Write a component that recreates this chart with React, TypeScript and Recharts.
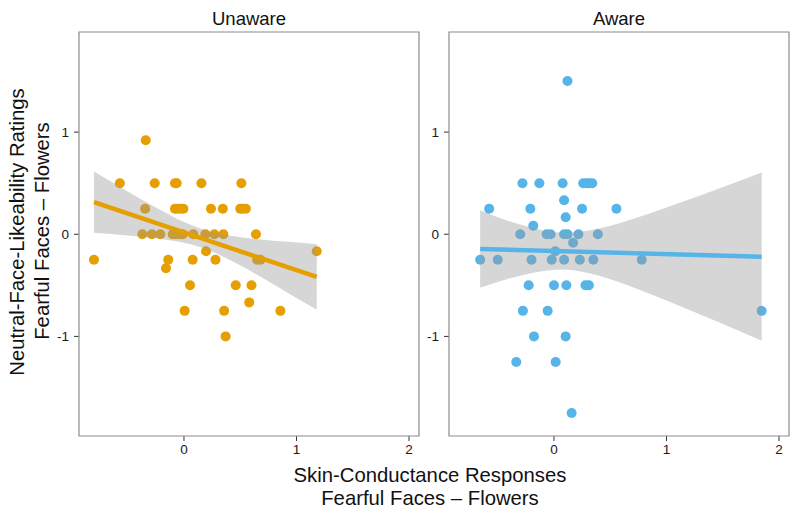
import React from 'react';
import {
  ComposedChart,
  Scatter,
  Area,
  Line,
  XAxis,
  YAxis,
  ReferenceArea,
} from 'recharts';

// Unaware panel (orange)
const unawareX = [
  -0.8, -0.34, -0.57, -0.26, -0.08, -0.065, 0.155, 0.51, -0.345, -0.08, -0.06, -0.03, -0.005,
  0.24, 0.345, 0.5, 0.52, 0.55, -0.37, -0.285, -0.21, -0.1, -0.07, -0.04, -0.01, 0.083, 0.19,
  0.27, 0.35, 0.64, 0.196, -0.14, 0.077, 0.28, 0.65, 0.68, -0.16, 1.18, 0.054, 0.46, 0.6, 0.58,
  0.006, 0.357, 0.857, 0.37,
];
const unawareY = [
  -0.25, 0.92, 0.5, 0.5, 0.5, 0.5, 0.5, 0.5, 0.25, 0.25, 0.25, 0.25, 0.25,
  0.25, 0.25, 0.25, 0.25, 0.25, 0, 0, 0, 0, 0, 0, 0, 0, 0,
  0, 0, 0, -0.167, -0.25, -0.25, -0.25, -0.25, -0.25, -0.333, -0.167, -0.5, -0.5, -0.5, -0.667,
  -0.75, -0.75, -0.75, -1.0,
];
const unawareFitX = [-0.8, 1.18];
const unawareFitY = [0.314, -0.418];
const unawareBandX = [-0.8, -0.5, -0.25, 0, 0.15, 0.4, 0.7, 0.95, 1.18];
const unawareBandLow = [0.014, -0.012, -0.039, -0.083, -0.127, -0.247, -0.429, -0.591, -0.738];
const unawareBandHigh = [0.614, 0.418, 0.261, 0.119, 0.053, -0.013, -0.053, -0.077, -0.098];

// Aware panel (blue)
const awareX = [
  0.12, -0.28, -0.13, 0.077, 0.26, 0.29, 0.31, 0.34, 0.09, -0.576, -0.21, 0.25, 0.555,
  0.104, -0.184, -0.3, -0.065, -0.03, 0.09, 0.12, 0.217, 0.39, 0.17, 0.012,
  -0.656, -0.5, -0.2, -0.02, 0.09, 0.23, 0.35, 0.78, -0.225, 0.0, 0.11, 0.28, 0.31,
  -0.276, -0.056, 1.846, -0.178, 0.104, -0.335, 0.015, 0.157,
];
const awareY = [
  1.5, 0.5, 0.5, 0.5, 0.5, 0.5, 0.5, 0.5, 0.333, 0.25, 0.25, 0.25, 0.25,
  0.167, 0.083, 0, 0, 0, 0, 0, 0, 0, -0.083, -0.167,
  -0.25, -0.25, -0.25, -0.25, -0.25, -0.25, -0.25, -0.25, -0.5, -0.5, -0.5, -0.5, -0.5,
  -0.75, -0.75, -0.75, -1.0, -1.0, -1.25, -1.25, -1.75,
];
const awareFitX = [-0.656, 1.846];
const awareFitY = [-0.144, -0.219];
const awareBandX = [-0.656, -0.3, 0.08, 0.4, 0.7, 1.0, 1.3, 1.6, 1.846];
const awareBandLow = [-0.524, -0.405, -0.346, -0.407, -0.519, -0.649, -0.786, -0.926, -1.042];
const awareBandHigh = [0.236, 0.095, 0.014, 0.056, 0.15, 0.262, 0.38, 0.502, 0.604];

const xTicks = [0, 1, 2];
const yTicks = [-1, 0, 1];
const X_DOMAIN: [number, number] = [-0.933, 2.089];
const Y_DOMAIN: [number, number] = [-1.975, 1.98];

const FONT = '"Liberation Sans", Arial, Helvetica, sans-serif';
const ORANGE = '#E69F00';
const BLUE = '#56B4E9';

type PanelProps = {
  left: number;
  width: number;
  marginLeft: number;
  yWidth: number;
  xs: number[];
  ys: number[];
  fitX: number[];
  fitY: number[];
  bandX: number[];
  bandLow: number[];
  bandHigh: number[];
  color: string;
};

function Panel(p: PanelProps) {
  const points = p.xs.map((x, i) => ({ x, y: p.ys[i] }));
  const band = p.bandX.map((x, i) => ({ x, band: [p.bandLow[i], p.bandHigh[i]] }));
  const fit = p.fitX.map((x, i) => ({ x, fit: p.fitY[i] }));
  const tick = { fontSize: 13.5, fill: '#1a1a1a', fontFamily: FONT };
  return (
    <div style={{ position: 'absolute', left: p.left, top: 0 }}>
      <ComposedChart
        width={p.width}
        height={514}
        data={band}
        margin={{ top: 32, right: 11, bottom: 48, left: p.marginLeft }}
      >
        <XAxis
          dataKey="x"
          type="number"
          domain={X_DOMAIN}
          ticks={xTicks}
          allowDataOverflow
          height={30}
          axisLine={false}
          tickSize={5}
          tickMargin={3}
          tickLine={{ stroke: '#333' }}
          tick={tick}
        />
        <YAxis
          type="number"
          domain={Y_DOMAIN}
          ticks={yTicks}
          allowDataOverflow
          width={p.yWidth}
          axisLine={false}
          tickSize={5}
          tickMargin={5}
          tickLine={{ stroke: '#333' }}
          tick={tick}
        />
        <Scatter
          data={points}
          dataKey="y"
          isAnimationActive={false}
          shape={(s: any) => <circle cx={s.cx} cy={s.cy} r={5} fill={p.color} />}
        />
        <Area
          dataKey="band"
          type="monotone"
          stroke="none"
          fill="#999999"
          fillOpacity={0.4}
          isAnimationActive={false}
          activeDot={false}
          zIndex={650}
        />
        <Line
          data={fit}
          dataKey="fit"
          stroke={p.color}
          strokeWidth={4.5}
          dot={false}
          activeDot={false}
          isAnimationActive={false}
          zIndex={660}
        />
        <ReferenceArea
          x1={X_DOMAIN[0]}
          x2={X_DOMAIN[1]}
          y1={Y_DOMAIN[0]}
          y2={Y_DOMAIN[1]}
          fill="none"
          stroke="#8c8c8c"
          strokeWidth={1.2}
          ifOverflow="extendDomain"
          zIndex={700}
        />
      </ComposedChart>
    </div>
  );
}

const textBase: React.CSSProperties = {
  position: 'absolute',
  fontFamily: FONT,
  color: '#111',
  whiteSpace: 'nowrap',
  transform: 'translate(-50%, -50%)',
  lineHeight: 1,
};

export default function App() {
  return (
    <div
      style={{
        position: 'absolute',
        left: 0,
        top: 0,
        width: 800,
        height: 514,
        background: '#fff',
        overflow: 'hidden',
      }}
    >
      <Panel
        left={0}
        width={430}
        marginLeft={39}
        yWidth={40}
        xs={unawareX}
        ys={unawareY}
        fitX={unawareFitX}
        fitY={unawareFitY}
        bandX={unawareBandX}
        bandLow={unawareBandLow}
        bandHigh={unawareBandHigh}
        color={ORANGE}
      />
      <Panel
        left={420}
        width={380}
        marginLeft={4}
        yWidth={25}
        xs={awareX}
        ys={awareY}
        fitX={awareFitX}
        fitY={awareFitY}
        bandX={awareBandX}
        bandLow={awareBandLow}
        bandHigh={awareBandHigh}
        color={BLUE}
      />
      <div style={{ ...textBase, left: 249, top: 19, fontSize: 18.5 }}>Unaware</div>
      <div style={{ ...textBase, left: 619, top: 19, fontSize: 18.5 }}>Aware</div>
      <div style={{ ...textBase, left: 430, top: 475, fontSize: 20.3 }}>Skin-Conductance Responses</div>
      <div style={{ ...textBase, left: 430, top: 497.5, fontSize: 20.3 }}>Fearful Faces – Flowers</div>
      <div
        style={{
          ...textBase,
          left: 17,
          top: 232,
          fontSize: 20.3,
          transform: 'translate(-50%, -50%) rotate(-90deg)',
        }}
      >
        Neutral-Face-Likeability Ratings
      </div>
      <div
        style={{
          ...textBase,
          left: 42,
          top: 231,
          fontSize: 20.3,
          transform: 'translate(-50%, -50%) rotate(-90deg)',
        }}
      >
        Fearful Faces – Flowers
      </div>
    </div>
  );
}
